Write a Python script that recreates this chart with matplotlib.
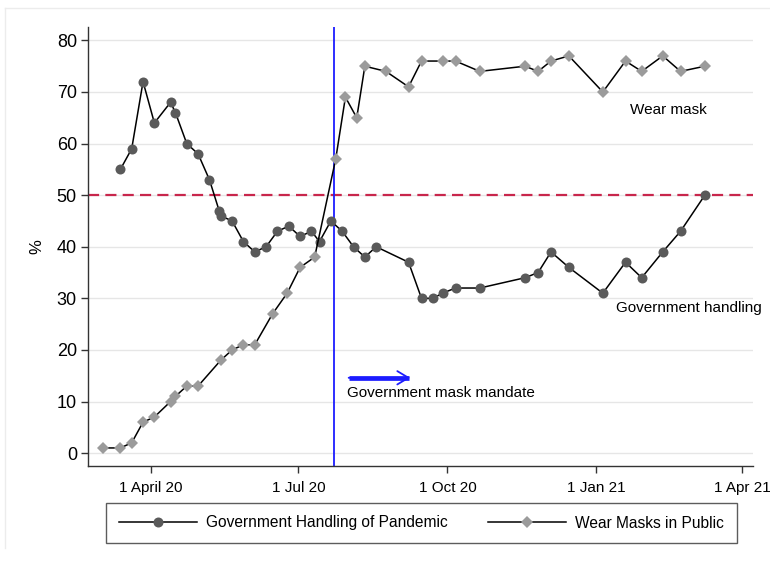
import numpy as np
import pandas as pd
import matplotlib
matplotlib.use("Agg")
import matplotlib.pyplot as plt
from matplotlib.lines import Line2D

plt.rcParams['font.family'] = ['Liberation Sans', 'DejaVu Sans']

# Share of respondents approving of the government's handling of the pandemic
gov_dates = [
    "2020-03-13", "2020-03-20", "2020-03-27", "2020-04-03", "2020-04-13",
    "2020-04-16", "2020-04-23", "2020-04-30", "2020-05-07", "2020-05-13",
    "2020-05-14", "2020-05-21", "2020-05-28", "2020-06-04", "2020-06-11",
    "2020-06-18", "2020-06-25", "2020-07-02", "2020-07-09", "2020-07-14",
    "2020-07-21", "2020-07-28", "2020-08-04", "2020-08-11", "2020-08-18",
    "2020-09-07", "2020-09-15", "2020-09-22", "2020-09-28", "2020-10-06",
    "2020-10-21", "2020-11-18", "2020-11-26", "2020-12-04", "2020-12-15",
    "2021-01-05", "2021-01-19", "2021-01-29", "2021-02-11", "2021-02-22",
    "2021-03-09",
]
gov_values = [
    55, 59, 72, 64, 68, 66, 60, 58, 53, 47,
    46, 45, 41, 39, 40, 43, 44, 42, 43, 41,
    45, 43, 40, 38, 40, 37, 30, 30, 31, 32,
    32, 34, 35, 39, 36, 31, 37, 34, 39, 43,
    50,
]

# Share of respondents wearing masks in public
mask_dates = [
    "2020-03-02", "2020-03-13", "2020-03-20", "2020-03-27", "2020-04-03",
    "2020-04-13", "2020-04-16", "2020-04-23", "2020-04-30", "2020-05-14",
    "2020-05-21", "2020-05-28", "2020-06-04", "2020-06-15", "2020-06-24",
    "2020-07-02", "2020-07-11", "2020-07-24", "2020-07-30", "2020-08-06",
    "2020-08-11", "2020-08-24", "2020-09-07", "2020-09-15", "2020-09-28",
    "2020-10-06", "2020-10-21", "2020-11-18", "2020-11-26", "2020-12-04",
    "2020-12-15", "2021-01-05", "2021-01-19", "2021-01-29", "2021-02-11",
    "2021-02-22", "2021-03-09",
]
mask_values = [
    1, 1, 2, 6, 7, 10, 11, 13, 13, 18,
    20, 21, 21, 27, 31, 36, 38, 57, 69, 65,
    75, 74, 71, 76, 76, 76, 74, 75, 74, 76,
    77, 70, 76, 74, 77, 74, 75,
]

tick_dates = ["2020-04-01", "2020-07-01", "2020-10-01", "2021-01-01", "2021-04-01"]
tick_labels = ["1 April 20", "1 Jul 20", "1 Oct 20", "1 Jan 21", "1 Apr 21"]
y_ticks = [0, 10, 20, 30, 40, 50, 60, 70, 80]

mandate_date = "2020-07-23"
threshold = 50

gov_x = pd.to_datetime(gov_dates)
mask_x = pd.to_datetime(mask_dates)
ticks_x = pd.to_datetime(tick_dates)

W, H = 770, 562
fig = plt.figure(figsize=(W / 100, H / 100), dpi=100)
ax = fig.add_axes([88 / W, 1 - 466 / H, (753 - 88) / W, (466 - 27) / H])

# faint frame around the graph region
fig.add_artist(Line2D([5 / W, 5 / W], [1 - 8 / H, 1 - 548 / H], color="#ececec", lw=1.0))
fig.add_artist(Line2D([5 / W, 1.0], [1 - 8 / H, 1 - 8 / H], color="#ececec", lw=1.0))

for v in y_ticks:
    ax.axhline(v, color="#e6e6e6", lw=1.0, zorder=0)

ax.axhline(threshold, color="#c8264c", lw=1.6, linestyle=(0, (5.0, 2.8)), zorder=1)
ax.axvline(pd.Timestamp(mandate_date), color="#1c1cff", lw=1.3, zorder=1)

ax.plot(gov_x, gov_values, color="black", lw=1.1, marker="o", markersize=7.2,
        markerfacecolor="#5a5a5a", markeredgewidth=0, zorder=3,
        label="Government Handling of Pandemic")
ax.plot(mask_x, mask_values, color="black", lw=1.1, marker="D", markersize=6.5,
        markerfacecolor="#9b9b9b", markeredgewidth=0, zorder=3,
        label="Wear Masks in Public")

ax.set_xlim(pd.Timestamp("2020-02-22"), pd.Timestamp("2021-04-07 18:00"))
ax.set_ylim(-2.5, 82.6)

ax.set_xticks(ticks_x)
ax.set_xticklabels(tick_labels)
ax.set_yticks(y_ticks)
ax.tick_params(axis="y", labelsize=13, length=5, width=1.0, pad=3, color="#333333")
ax.tick_params(axis="x", labelsize=11, length=5, width=1.0, pad=6, color="#333333")

for side in ["top", "right"]:
    ax.spines[side].set_visible(False)
for side in ["left", "bottom"]:
    ax.spines[side].set_color("#333333")
    ax.spines[side].set_linewidth(1.0)

ax.set_ylabel("%", fontsize=12, labelpad=9)

ax.text(pd.Timestamp("2021-01-22"), 66.5, "Wear mask", fontsize=11, ha="left", va="center")
ax.text(pd.Timestamp("2021-01-13"), 28.2, "Government handling", fontsize=11,
        ha="left", va="center", clip_on=False)
ax.text(pd.Timestamp("2020-07-31"), 11.6, "Government mask mandate", fontsize=11,
        ha="left", va="center")

arrow_start = pd.Timestamp("2020-08-01")
arrow_end = pd.Timestamp("2020-09-08")
ax.plot([arrow_start, arrow_end - pd.Timedelta(days=1)], [14.6, 14.6], color="#1c1cff",
        lw=3.4, solid_capstyle="butt", zorder=2)
ax.annotate("", xy=(arrow_end, 14.6), xytext=(arrow_start, 14.6),
            arrowprops=dict(arrowstyle="->, head_length=0.5, head_width=0.3",
                            color="#1c1cff", lw=1.3, shrinkA=0, shrinkB=0,
                            mutation_scale=16))

leg = fig.legend(loc="center", bbox_to_anchor=((110 + 733) / 2 / W, 1 - 523 / H),
                 ncol=2, fontsize=11.2, frameon=True, fancybox=False,
                 edgecolor="#333333", handlelength=5.0, handletextpad=0.6,
                 columnspacing=2.6, borderpad=0.8, borderaxespad=0)
leg.get_frame().set_linewidth(1.0)

fig.savefig("out.png", dpi=100)
